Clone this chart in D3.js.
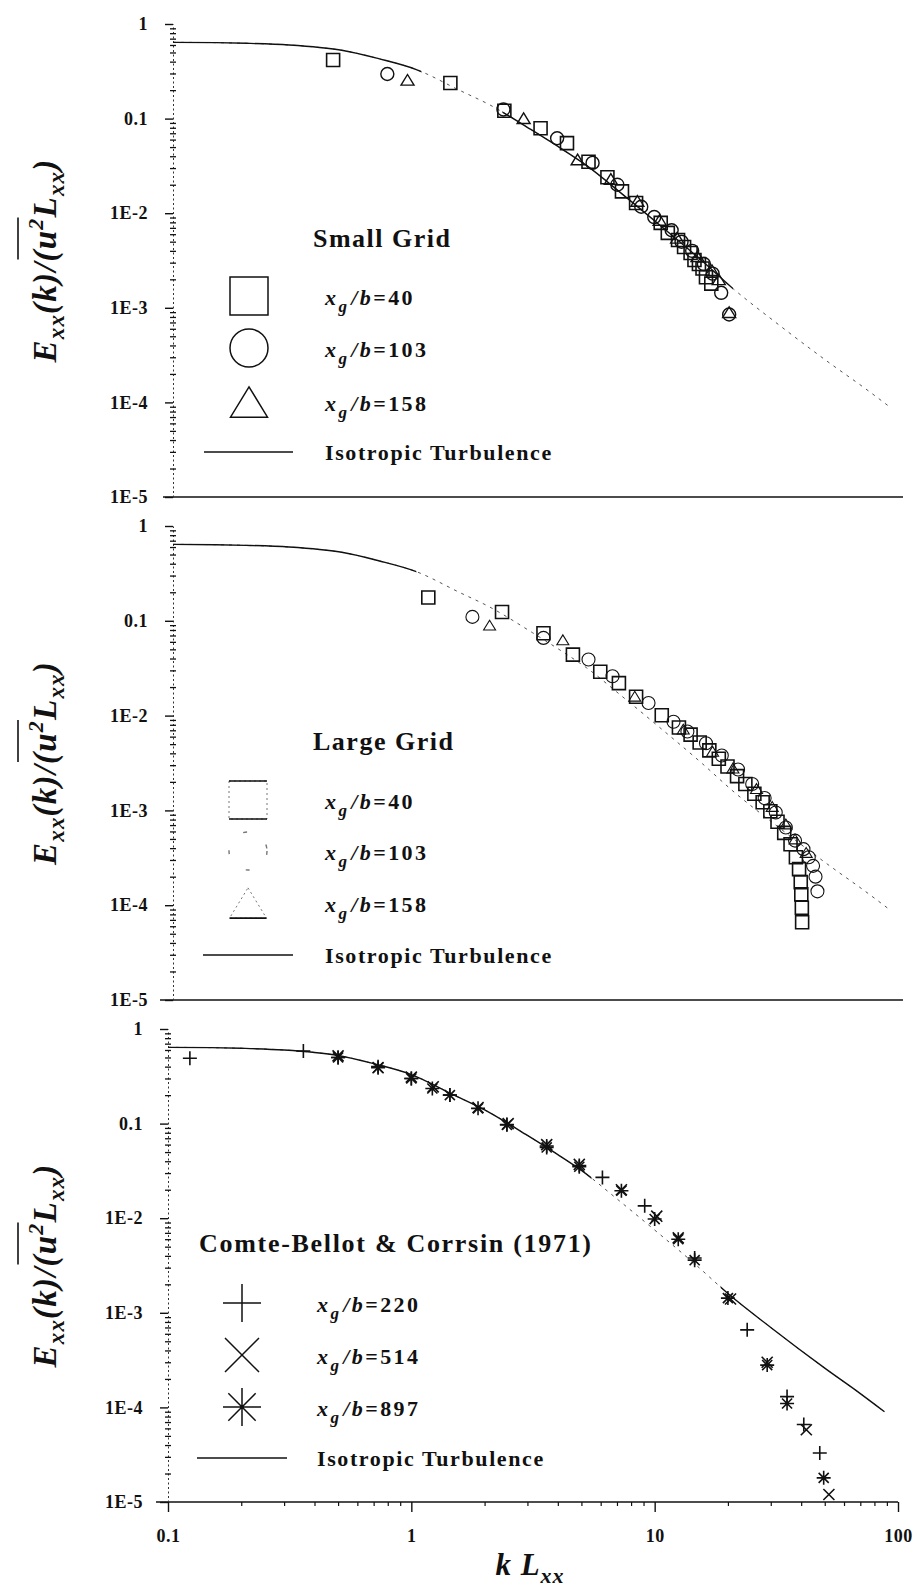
<!DOCTYPE html>
<html>
<head>
<meta charset="utf-8">
<script src="https://cdn.jsdelivr.net/npm/d3@7"></script>
<style>
  html, body { margin: 0; padding: 0; background: #fff; }
  svg { display: block; }
</style>
</head>
<body>
<svg id="chart" width="918" height="1593"></svg>
<script>
// ---- axis ticks ----
const xTickValues = [0.1, 1, 10, 100];
const xTickLabels = ["0.1", "1", "10", "100"];
const yTickValues = [1, 0.1, 0.01, 0.001, 0.0001, 0.00001];
const yTickLabels = ["1", "0.1", "1E-2", "1E-3", "1E-4", "1E-5"];

// ---- isotropic turbulence model spectrum ----
const isoK = [0.1, 0.15, 0.2, 0.3, 0.4, 0.5, 0.7, 1, 1.5, 2, 3, 4, 5, 7, 10, 15, 20, 30, 50, 70, 88];
const isoE = [0.64, 0.635, 0.625, 0.6, 0.565, 0.525, 0.43, 0.33, 0.2, 0.14, 0.075, 0.047, 0.032, 0.016, 0.0075, 0.0031, 0.0016, 7e-4, 2.6e-4, 1.4e-4, 9e-5];

// ---- small grid ----
const smallK40 = [0.455, 1.38, 2.3, 3.24, 4.16, 5.1, 6.1, 7.0, 8.0, 10.1, 10.8, 11.9, 12.6, 13.4, 13.9, 14.5, 15.0, 15.5, 16.3];
const smallE40 = [0.416, 0.238, 0.121, 0.079, 0.055, 0.035, 0.024, 0.017, 0.0128, 0.0079, 0.0062, 0.0052, 0.0044, 0.0038, 0.0032, 0.0029, 0.0026, 0.0021, 0.0018];
const smallK103 = [0.76, 2.28, 3.79, 5.3, 6.7, 8.4, 9.5, 11.2, 12.3, 13.6, 15.2, 16.5, 17.9, 19.3];
const smallE103 = [0.296, 0.125, 0.062, 0.034, 0.020, 0.0117, 0.0091, 0.0066, 0.0050, 0.0040, 0.0029, 0.0023, 0.00144, 0.00085];
const smallK158 = [0.92, 2.76, 4.6, 6.3, 8.1, 10.0, 11.8, 14.3, 16.4, 17.5, 19.3];
const smallE158 = [0.257, 0.101, 0.037, 0.023, 0.0135, 0.0085, 0.0055, 0.0035, 0.0025, 0.0020, 0.0009];

// ---- large grid ----
const largeK40 = [1.12, 2.25, 3.33, 4.4, 5.7, 6.8, 8.0, 10.2, 12.0, 13.4, 14.6, 16.0, 17.5, 19.0, 20.8, 22.5, 24.5, 26.5, 28.5, 30.5, 32.5, 34.5, 36.3, 37.4, 38.0, 38.2, 38.4, 38.5];
const largeE40 = [0.176, 0.124, 0.074, 0.044, 0.029, 0.022, 0.0158, 0.0101, 0.0075, 0.0063, 0.0052, 0.0043, 0.0035, 0.0029, 0.0023, 0.0019, 0.0015, 0.00122, 0.00098, 7.6e-4, 5.8e-4, 4.4e-4, 3.2e-4, 2.4e-4, 1.75e-4, 1.3e-4, 9.4e-5, 6.6e-5];
const largeK103 = [1.7, 3.33, 5.1, 6.4, 9.0, 11.4, 13.0, 15.5, 18.0, 21.0, 24.0, 27.0, 30.0, 33.0, 36.0, 39.0, 41.0, 42.7, 43.7, 44.5];
const largeE103 = [0.11, 0.066, 0.039, 0.026, 0.0136, 0.0086, 0.0068, 0.0051, 0.0038, 0.0027, 0.0019, 0.00135, 9.5e-4, 6.6e-4, 4.8e-4, 3.9e-4, 3.2e-4, 2.6e-4, 2.0e-4, 1.4e-4];
const largeK158 = [2.0, 4.0, 7.9, 12.5, 16.5, 20.0, 25.0, 29.0, 33.0, 36.0, 40.0];
const largeE158 = [0.090, 0.063, 0.016, 0.0072, 0.0042, 0.0028, 0.0017, 0.0011, 7.2e-4, 5.0e-4, 3.6e-4];

// ---- Comte-Bellot & Corrsin (1971) ----
const cbcK220 = [0.123, 0.36, 0.5, 0.73, 1.0, 1.44, 2.47, 3.6, 4.9, 6.1, 9.1, 14.6, 24, 35, 41, 47.7];
const cbcE220 = [0.49, 0.585, 0.50, 0.40, 0.30, 0.20, 0.098, 0.058, 0.036, 0.027, 0.0135, 0.0038, 6.6e-4, 1.3e-4, 6.6e-5, 3.3e-5];
const cbcK514 = [0.5, 0.73, 1.0, 1.23, 1.88, 2.5, 3.6, 4.9, 7.3, 10.2, 12.5, 20.5, 29, 42, 52];
const cbcE514 = [0.52, 0.39, 0.31, 0.245, 0.148, 0.10, 0.06, 0.037, 0.02, 0.0105, 0.0062, 0.0014, 3.0e-4, 5.8e-5, 1.2e-5];
const cbcK897 = [0.5, 0.73, 1.0, 1.22, 1.44, 1.88, 2.47, 3.6, 4.9, 7.3, 10.0, 12.5, 14.6, 20, 29, 35, 49.5];
const cbcE897 = [0.50, 0.39, 0.30, 0.235, 0.2, 0.145, 0.097, 0.056, 0.035, 0.0195, 0.0098, 0.006, 0.0036, 0.00143, 2.8e-4, 1.1e-4, 1.8e-5];

const SERIF = "'Liberation Serif', 'DejaVu Serif', 'Times New Roman', serif";
const INK = "#111";

const svg = d3.select("#chart");

// Panel layout: vertical extent of each log axis, legend placement and line styling
const panels = [
  {
    id: "small", top: 24, bottom: 497, x0: 173, base: [163, 903], xAxis: false,
    title: "Small Grid", titleX: 313, titleY: 247,
    symX: 249, textX: 325, rowY: [296, 348, 402, 452], lineX: [204, 293],
    solid: [[0.1, 1.05], [2.3, 20]],
    series: [
      { k: smallK40, e: smallE40, label: "40", shape: "square", size: 13, sw: 1.6 },
      { k: smallK103, e: smallE103, label: "103", shape: "circle", size: 13, sw: 1.4 },
      { k: smallK158, e: smallE158, label: "158", shape: "triangle", size: 13, sw: 1.4 }
    ],
    legendStyle: ["solid", "solid", "solid"]
  },
  {
    id: "large", top: 526, bottom: 1000, x0: 173, base: [160, 903], xAxis: false,
    title: "Large Grid", titleX: 313, titleY: 750,
    symX: 248, textX: 325, rowY: [800, 851, 903, 955], lineX: [203, 293],
    solid: [[0.1, 1.0]],
    series: [
      { k: largeK40, e: largeE40, label: "40", shape: "square", size: 13, sw: 1.6 },
      { k: largeK103, e: largeE103, label: "103", shape: "circle", size: 13, sw: 1.1 },
      { k: largeK158, e: largeE158, label: "158", shape: "triangle", size: 12, sw: 1.1 }
    ],
    legendStyle: ["split", "faint", "split"]
  },
  {
    id: "cbc", top: 1029, bottom: 1502, x0: 168, base: [156, 898], xAxis: true,
    title: "Comte-Bellot & Corrsin (1971)", titleX: 199, titleY: 1252,
    symX: 242, textX: 317, rowY: [1303, 1355, 1407, 1458], lineX: [197, 287],
    solid: [[0.1, 5.5], [19, 90]],
    series: [
      { k: cbcK220, e: cbcE220, label: "220", shape: "plus", size: 14, sw: 1.6 },
      { k: cbcK514, e: cbcE514, label: "514", shape: "cross", size: 13, sw: 1.6 },
      { k: cbcK897, e: cbcE897, label: "897", shape: "asterisk", size: 14, sw: 1.6 }
    ],
    legendStyle: ["solid", "solid", "solid"]
  }
];

// Marker outlines centred on the origin
function markerPath(shape, s) {
  const h = s / 2;
  switch (shape) {
    case "square": return `M${-h},${-h}H${h}V${h}H${-h}Z`;
    case "triangle": {
      const th = s * 0.82 / 2;
      return `M0,${-th}L${h},${th}L${-h},${th}Z`;
    }
    case "plus": return `M${-h},0H${h}M0,${-h}V${h}`;
    case "cross": { const a = h * 0.85; return `M${-a},${-a}L${a},${a}M${-a},${a}L${a},${-a}`; }
    case "asterisk": {
      const a = h * 0.72;
      return `M${-h},0H${h}M0,${-h}V${h}M${-a},${-a}L${a},${a}M${-a},${a}L${a},${-a}`;
    }
  }
  return "";
}

function drawMarker(g, shape, cx, cy, s, sw, extra) {
  let el;
  if (shape === "circle") {
    el = g.append("circle").attr("cx", cx).attr("cy", cy).attr("r", s / 2);
  } else {
    el = g.append("path").attr("d", markerPath(shape, s))
      .attr("transform", `translate(${cx},${cy})`);
  }
  el.attr("fill", "none").attr("stroke", INK).attr("stroke-width", sw);
  if (extra) extra(el);
  return el;
}

const minorValues = [];
for (let e = -5; e < 0; e++) for (let m = 2; m <= 9; m++) minorValues.push(m * Math.pow(10, e));

panels.forEach((p) => {
  const x = d3.scaleLog().domain([0.1, 100]).range([p.x0, p.x0 + 730]);
  const y = d3.scaleLog().domain([1e-5, 1]).range([p.bottom, p.top]);
  const g = svg.append("g").attr("class", "panel-" + p.id);

  // baseline at 1E-5
  g.append("line")
    .attr("x1", p.base[0]).attr("x2", p.base[1])
    .attr("y1", y(1e-5)).attr("y2", y(1e-5))
    .attr("stroke", INK).attr("stroke-width", 1.6);

  // y axis: major ticks with labels
  const yAx = g.append("g").attr("transform", `translate(${p.x0},0)`)
    .call(d3.axisLeft(y).tickValues(yTickValues)
      .tickFormat((d, i) => yTickLabels[i]).tickSize(8).tickSizeOuter(0).tickPadding(17));
  yAx.select(".domain").attr("stroke", "#333").attr("stroke-width", 1)
    .attr("stroke-dasharray", "2,2.5");
  yAx.selectAll(".tick line").attr("stroke", INK).attr("stroke-width", 1.4);
  yAx.selectAll(".tick text")
    .attr("font-family", SERIF).attr("font-weight", "bold").attr("font-size", 18)
    .attr("fill", INK).attr("letter-spacing", 0.5);

  // y axis: minor ticks on both sides
  [d3.axisLeft, d3.axisRight].forEach(ax => {
    const m = g.append("g").attr("transform", `translate(${p.x0},0)`)
      .call(ax(y).tickValues(minorValues).tickFormat("").tickSize(3).tickSizeOuter(0));
    m.select(".domain").remove();
    m.selectAll(".tick line").attr("stroke", INK).attr("stroke-width", 1.3);
  });

  // x axis (bottom panel only)
  if (p.xAxis) {
    const xAx = g.append("g").attr("transform", `translate(0,${y(1e-5)})`)
      .call(d3.axisBottom(x).tickValues(xTickValues)
        .tickFormat((d, i) => xTickLabels[i]).tickSize(10).tickSizeOuter(0).tickPadding(17));
    xAx.select(".domain").remove();
    xAx.selectAll(".tick line").attr("stroke", INK).attr("stroke-width", 1.4);
    xAx.selectAll(".tick text")
      .attr("font-family", SERIF).attr("font-weight", "bold").attr("font-size", 18)
      .attr("fill", INK).attr("letter-spacing", 0.5);
    const xMinor = [];
    for (let e = -1; e < 2; e++) for (let m = 2; m <= 9; m++) xMinor.push(m * Math.pow(10, e));
    const mx = g.append("g").attr("transform", `translate(0,${y(1e-5)})`)
      .call(d3.axisBottom(x).tickValues(xMinor).tickFormat("").tickSize(4).tickSizeOuter(0));
    mx.select(".domain").remove();
    mx.selectAll(".tick line").attr("stroke", INK).attr("stroke-width", 1.2);

    // axis title k L_xx
    const xt = g.append("text").attr("x", 530).attr("y", 1575).attr("text-anchor", "middle")
      .attr("font-family", SERIF).attr("font-style", "italic").attr("font-weight", "bold")
      .attr("font-size", 31).attr("fill", INK).attr("letter-spacing", 1);
    xt.append("tspan").text("k L");
    xt.append("tspan").attr("font-size", 22).attr("dy", 8).text("xx");
  }

  // isotropic turbulence curve: faint dashed everywhere, solid where clipped in
  const iso = isoK.map((k, i) => [k, isoE[i]]);
  const line = d3.line().x(d => x(d[0])).y(d => y(d[1])).curve(d3.curveMonotoneX);
  g.append("path").attr("d", line(iso)).attr("fill", "none")
    .attr("stroke", "#555").attr("stroke-width", 1).attr("stroke-dasharray", "3,5");
  const clipId = "solid-" + p.id;
  const cp = svg.append("clipPath").attr("id", clipId);
  p.solid.forEach(r => {
    cp.append("rect").attr("x", x(r[0]) - 2).attr("width", x(r[1]) - x(r[0]) + 2)
      .attr("y", p.top - 10).attr("height", p.bottom - p.top + 20);
  });
  g.append("path").attr("d", line(iso)).attr("fill", "none")
    .attr("clip-path", `url(#${clipId})`)
    .attr("stroke", INK).attr("stroke-width", 1.4);

  // data markers
  p.series.forEach(s => {
    const mg = g.append("g");
    s.k.forEach((k, i) => {
      drawMarker(mg, s.shape, x(k), y(s.e[i]), s.size, s.sw);
    });
  });

  // y axis title: E_xx(k)/(u^2 L_xx), with a bar over u^2
  const cy = (p.top + p.bottom) / 2;
  const tg = g.append("g").attr("transform", `translate(56,${cy}) rotate(-90)`);
  const yt = tg.append("text").attr("text-anchor", "middle")
    .attr("font-family", SERIF).attr("font-style", "italic").attr("font-weight", "bold")
    .attr("font-size", 33).attr("letter-spacing", 1.2).attr("fill", INK);
  yt.append("tspan").text("E");
  yt.append("tspan").attr("font-size", 23).attr("dy", 8).text("xx");
  yt.append("tspan").attr("dy", -8).text("(k)/(u");
  yt.append("tspan").attr("font-size", 22).attr("dy", -13).text("2");
  yt.append("tspan").attr("dy", 13).text("L");
  yt.append("tspan").attr("font-size", 23).attr("dy", 8).text("xx");
  yt.append("tspan").attr("dy", -8).text(")");
  const node = yt.node();
  const a = node.getStartPositionOfChar(7).x;
  const b = node.getEndPositionOfChar(9).x;
  tg.append("line").attr("x1", a + 2).attr("x2", b).attr("y1", -38).attr("y2", -38)
    .attr("stroke", INK).attr("stroke-width", 1.6);

  // legend
  const lg = g.append("g").attr("class", "legend");
  lg.append("text").attr("x", p.titleX).attr("y", p.titleY)
    .attr("font-family", SERIF).attr("font-weight", "bold").attr("font-size", 26)
    .attr("letter-spacing", p.id === "cbc" ? 1.7 : 1.5).attr("fill", INK).text(p.title);

  p.series.forEach((s, i) => {
    const ry = p.rowY[i];
    const style = p.legendStyle[i];
    let size = 38;
    if (s.shape === "triangle") size = 37;
    if (s.shape === "cross") size = 40;
    drawMarker(lg, s.shape, p.symX, ry, size, 1.5, el => {
      if (style === "split") el.attr("stroke", "#777").attr("stroke-width", 1).attr("stroke-dasharray", "2,3");
      if (style === "faint") el.attr("stroke", "#777").attr("stroke-width", 1.4).attr("stroke-dasharray", "4,24");
    });
    // solid top and bottom edges on the faded square / solid base on the faded triangle
    if (style === "split") {
      const h = size / 2;
      const edges = s.shape === "square" ? [-h, h] : [size * 0.82 / 2];
      edges.forEach(dy => {
        lg.append("line").attr("x1", p.symX - h).attr("x2", p.symX + h)
          .attr("y1", ry + dy).attr("y2", ry + dy)
          .attr("stroke", INK).attr("stroke-width", 1.6);
      });
    }
    const t = lg.append("text").attr("x", p.textX).attr("y", ry + 9)
      .attr("font-family", SERIF).attr("font-weight", "bold").attr("font-size", 22)
      .attr("letter-spacing", 2.4).attr("fill", INK);
    t.append("tspan").attr("font-style", "italic").text("x");
    t.append("tspan").attr("font-style", "italic").attr("font-size", 17).attr("dy", 7).text("g");
    t.append("tspan").attr("font-style", "italic").attr("dy", -7).attr("dx", 2).text("/b");
    t.append("tspan").text("=" + s.label);
  });
  const ly = p.rowY[3];
  lg.append("line").attr("x1", p.lineX[0]).attr("x2", p.lineX[1]).attr("y1", ly).attr("y2", ly)
    .attr("stroke", INK).attr("stroke-width", 1.4);
  lg.append("text").attr("x", p.textX).attr("y", ly + 8)
    .attr("font-family", SERIF).attr("font-weight", "bold").attr("font-size", 22)
    .attr("letter-spacing", 1.6).attr("fill", INK).text("Isotropic Turbulence");
});
</script>
</body>
</html>
